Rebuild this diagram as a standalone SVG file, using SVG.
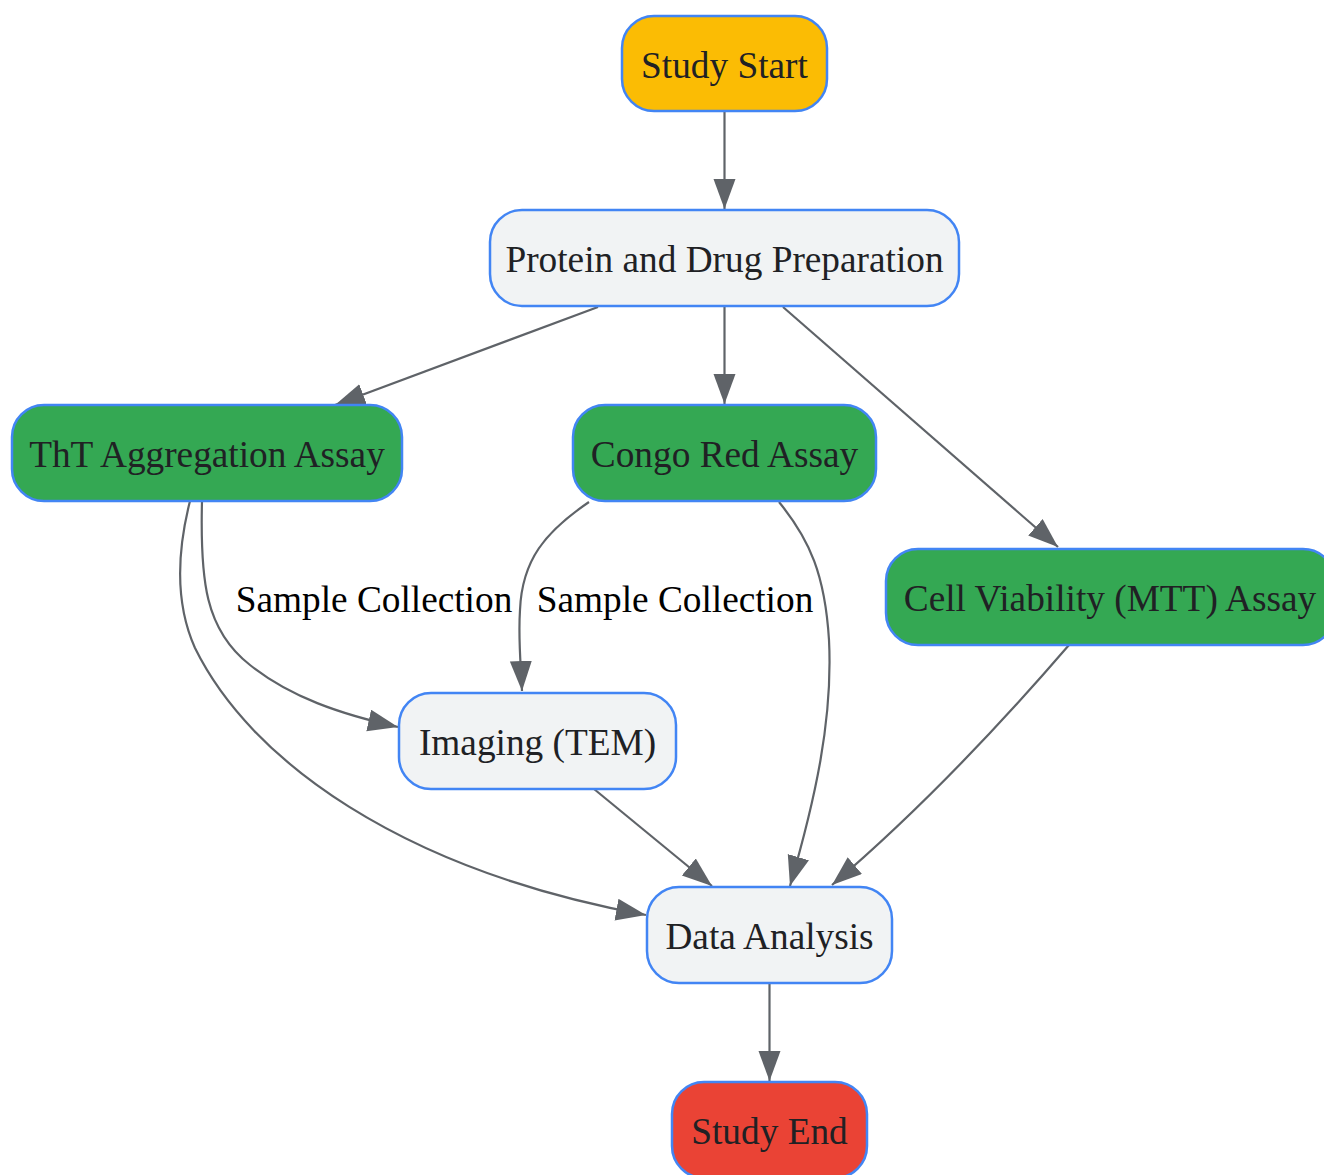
<svg xmlns="http://www.w3.org/2000/svg" width="1324" height="1175" viewBox="0 0 1324 1175">
<defs>
<marker id="arr" markerUnits="userSpaceOnUse" markerWidth="32" markerHeight="24" refX="30" refY="11" orient="auto">
<path d="M0,0 L30,11 L0,22 z" fill="#5F6368"/>
</marker>
<style>
.node rect{stroke:#4285F4;stroke-width:2.5}
.node text{font-family:"Liberation Serif",serif;font-size:37.3px;fill:#202124;text-anchor:middle;dominant-baseline:central}
.edges path{fill:none;stroke:#5F6368;stroke-width:2.2;marker-end:url(#arr)}
.lbl{font-family:"Liberation Serif",serif;font-size:37.3px;fill:#000;text-anchor:middle;dominant-baseline:central}
</style>
</defs>
<rect width="1324" height="1175" fill="#fff"/>
<g id="edges" class="edges">
<path d="M724.5,111 L724.5,209"/>
<path d="M598,307 L335,405"/>
<path d="M724.5,306 L724.5,404"/>
<path d="M783,307 L1058,547"/>
<path d="M202,501 C200,580 205,630 250,665 C290,697 340,714 398,727"/>
<path d="M190,501 C175,560 178,610 195,648 C250,760 400,870 646,915"/>
<path d="M589,502 C545,532 522,560 520,610 C518,640 521,665 522,691"/>
<path d="M779,502 C810,540 825,575 829,640 C833,720 815,800 790,886"/>
<path d="M594,789 L712,886"/>
<path d="M1069,645 C1000,725 920,810 832,885"/>
<path d="M769.5,983 L769.5,1081"/>
</g>
<g id="edge-labels">
<text class="lbl" x="374" y="599">Sample Collection</text>
<text class="lbl" x="675" y="599">Sample Collection</text>
</g>
<g id="n-start" class="node"><rect x="622" y="16" width="205" height="95" rx="32" fill="#FBBC04"/><text x="724.5" y="65">Study Start</text></g>
<g id="n-prep" class="node"><rect x="490" y="210" width="469" height="96" rx="32" fill="#F1F3F4"/><text x="724.5" y="259">Protein and Drug Preparation</text></g>
<g id="n-tht" class="node"><rect x="12" y="405" width="390" height="96" rx="32" fill="#34A853"/><text x="207" y="454">ThT Aggregation Assay</text></g>
<g id="n-congo" class="node"><rect x="573" y="405" width="303" height="96" rx="32" fill="#34A853"/><text x="724.5" y="454">Congo Red Assay</text></g>
<g id="n-cell" class="node"><rect x="886" y="549" width="449" height="96" rx="32" fill="#34A853"/><text x="1110" y="598">Cell Viability (MTT) Assay</text></g>
<g id="n-tem" class="node"><rect x="399" y="693" width="277" height="96" rx="32" fill="#F1F3F4"/><text x="537.5" y="742">Imaging (TEM)</text></g>
<g id="n-data" class="node"><rect x="647" y="887" width="245" height="96" rx="32" fill="#F1F3F4"/><text x="769.5" y="936">Data Analysis</text></g>
<g id="n-end" class="node"><rect x="672" y="1082" width="195" height="96" rx="32" fill="#EA4335"/><text x="769.5" y="1131">Study End</text></g>
</svg>
